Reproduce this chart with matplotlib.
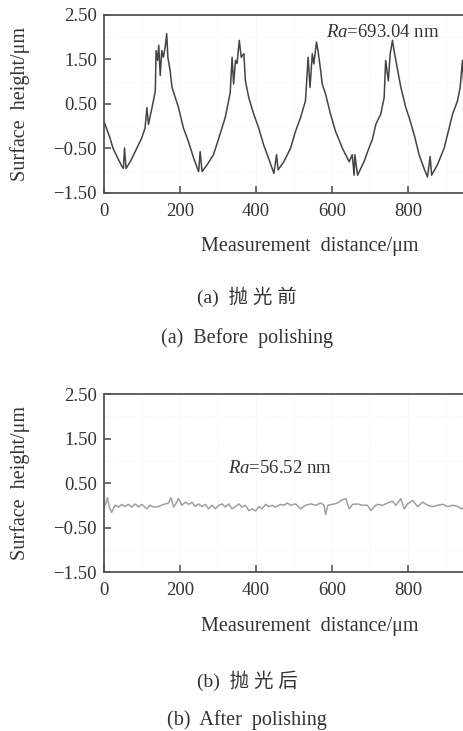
import numpy as np
import matplotlib.pyplot as plt

plt.rcParams['font.family'] = ['Liberation Serif', 'Noto Sans CJK SC']
plt.rcParams['mathtext.fontset'] = 'custom'
plt.rcParams['mathtext.rm'] = 'Liberation Serif'
plt.rcParams['mathtext.it'] = 'Liberation Serif:italic'

# perfil abans del polit (valors llegits de la figura)
x_antes = [0, 16, 24, 37, 47, 51, 54, 58, 69, 86, 99, 108, 113, 117, 130, 135, 137, 141,
           144, 148, 152, 156, 161, 165, 168, 174, 179, 196, 209, 222, 236, 249, 253, 258,
           271, 288, 302, 319, 332, 337, 341, 346, 350, 356, 361, 368, 372, 381, 394, 407,
           420, 433, 447, 454, 458, 473, 491, 504, 517, 530, 537, 542, 548, 552, 559, 563,
           570, 574, 583, 596, 609, 627, 645, 653, 658, 660, 667, 684, 697, 706, 715, 728,
           737, 741, 748, 753, 759, 763, 776, 781, 794, 803, 816, 829, 842, 851, 858, 862,
           877, 895, 908, 917, 930, 937, 943, 947, 955, 965]
y_antes = [0.11, -0.27, -0.50, -0.73, -0.90, -0.95, -0.49, -0.95, -0.80, -0.50, -0.27, -0.04,
           0.42, 0.04, 0.57, 0.80, 1.70, 1.48, 1.82, 1.14, 1.70, 1.55, 1.78, 2.08, 1.55, 1.25,
           0.87, 0.42, -0.04, -0.34, -0.72, -1.02, -0.57, -1.02, -0.87, -0.64, -0.27, 0.20,
           0.75, 1.55, 0.95, 1.48, 1.41, 1.93, 1.55, 1.63, 1.02, 0.64, 0.27, -0.04, -0.42,
           -0.72, -1.06, -0.64, -0.98, -0.80, -0.49, -0.11, 0.19, 0.57, 1.55, 0.87, 1.63,
           1.40, 1.89, 1.70, 1.25, 0.95, 0.72, 0.27, -0.11, -0.49, -0.80, -0.64, -1.10,
           -0.64, -1.10, -0.80, -0.49, -0.30, 0.04, 0.27, 0.64, 1.48, 1.02, 1.63, 1.93, 1.70,
           1.10, 0.87, 0.42, 0.19, -0.19, -0.64, -0.95, -1.14, -0.68, -1.10, -0.87, -0.49,
           -0.04, 0.27, 0.57, 0.87, 1.48, 0.87, 1.50, 1.60]

# perfil després del polit
x_despres = [0, 3, 9, 14, 20, 29, 38, 47, 55, 64, 73, 82, 91, 99, 113, 121, 130, 143, 157,
             170, 176, 183, 190, 196, 205, 214, 223, 231, 240, 249, 258, 267, 275, 284, 293,
             302, 311, 319, 328, 337, 346, 355, 363, 372, 381, 390, 399, 407, 416, 425, 434,
             443, 451, 465, 473, 482, 491, 504, 517, 530, 544, 557, 570, 579, 583, 589, 601,
             614, 627, 636, 645, 654, 667, 680, 693, 702, 711, 720, 733, 746, 759, 768, 781,
             790, 799, 812, 825, 838, 852, 865, 878, 891, 904, 918, 931, 940, 948, 960]
y_despres = [0.00, 0.00, 0.17, -0.04, -0.16, 0.00, -0.04, 0.02, -0.03, 0.02, -0.04, 0.03,
             -0.04, 0.02, -0.08, 0.00, -0.04, -0.03, 0.02, 0.05, 0.17, -0.04, 0.05, 0.15, 0.00,
             0.07, 0.02, 0.07, -0.03, 0.03, -0.03, 0.02, -0.08, 0.00, -0.08, 0.00, 0.03, -0.04,
             0.03, -0.08, -0.03, 0.03, -0.04, 0.00, -0.12, -0.08, -0.13, -0.03, -0.08, 0.02,
             -0.03, 0.00, -0.04, 0.02, 0.00, 0.05, 0.00, 0.03, -0.08, 0.00, 0.03, 0.00, 0.05,
             0.00, -0.21, 0.00, 0.02, 0.05, 0.12, 0.15, -0.08, 0.02, 0.03, 0.00, 0.00, -0.12,
             -0.03, 0.02, 0.00, 0.05, 0.09, 0.00, 0.15, -0.08, 0.03, 0.11, -0.03, 0.07, 0.00,
             -0.03, 0.00, 0.02, -0.03, 0.00, -0.03, -0.08, -0.04, -0.02]

xticks = [0, 200, 400, 600, 800]
yticks = [2.5, 1.5, 0.5, -0.5, -1.5]
ytick_labels = ['2.50', '1.50', '0.50', '\u22120.50', '\u22121.50']

fig = plt.figure(figsize=(4.63, 7.31), dpi=100)
ax1 = fig.add_axes([0.2246, 0.736, 0.821, 0.2435])
ax2 = fig.add_axes([0.2246, 0.2175, 0.821, 0.2435])

def estil(ax):
    ax.set_xlim(0, 1000)
    ax.set_ylim(-1.5, 2.5)
    ax.set_xticks(xticks)
    ax.set_xticklabels([str(t) for t in xticks])
    ax.set_yticks(yticks)
    ax.set_yticklabels(ytick_labels)
    for s in ax.spines.values():
        s.set_color('#555555')
        s.set_linewidth(1.3)
    ax.tick_params(direction='in', length=5, width=1.2, color='#555555',
                   labelsize=13.5, labelcolor='#333333')
    ax.tick_params(axis='x', pad=7)
    ax.tick_params(axis='y', pad=5)
    for gx in range(100, 1000, 100):
        ax.axvline(gx, color='#eeeeee', lw=0.6, ls=':', zorder=0)
    for gy in [2.0, 1.0, 0.0, -1.0]:
        ax.axhline(gy, color='#f2f2f2', lw=0.6, ls=':', zorder=0)
    ax.set_ylabel('Surface  height/\u03bcm', fontsize=14.5, color='#333333')
    ax.set_xlabel('Measurement  distance/\u03bcm', fontsize=14.5, color='#333333')
    ax.xaxis.set_label_coords(0.54, -0.25)
    ax.yaxis.set_label_coords(-0.195, 0.5)

estil(ax1)
estil(ax2)

ax1.plot(x_antes, y_antes, color='#444444', lw=1.1)
ax2.plot(x_despres, y_despres, color='#a0a0a0', lw=1.1)

ax1.text(583, 2.11, r'$Ra$=693.04 nm', fontsize=13.5, color='#333333', va='center')
ax2.text(325, 0.83, r'$Ra$=56.52 nm', fontsize=13.5, color='#333333', va='center')

fig.text(0.534, 1 - 297 / 731, '(a)  抛 光 前', ha='center', va='center', fontsize=14, color='#333333')
fig.text(0.534, 1 - 338 / 731, '(a)  Before  polishing', ha='center', va='center', fontsize=14.5, color='#333333')
fig.text(0.534, 1 - 681 / 731, '(b)  抛 光 后', ha='center', va='center', fontsize=14, color='#333333')
fig.text(0.534, 1 - 720 / 731, '(b)  After  polishing', ha='center', va='center', fontsize=14.5, color='#333333')

fig.savefig('out.png', dpi=100)
